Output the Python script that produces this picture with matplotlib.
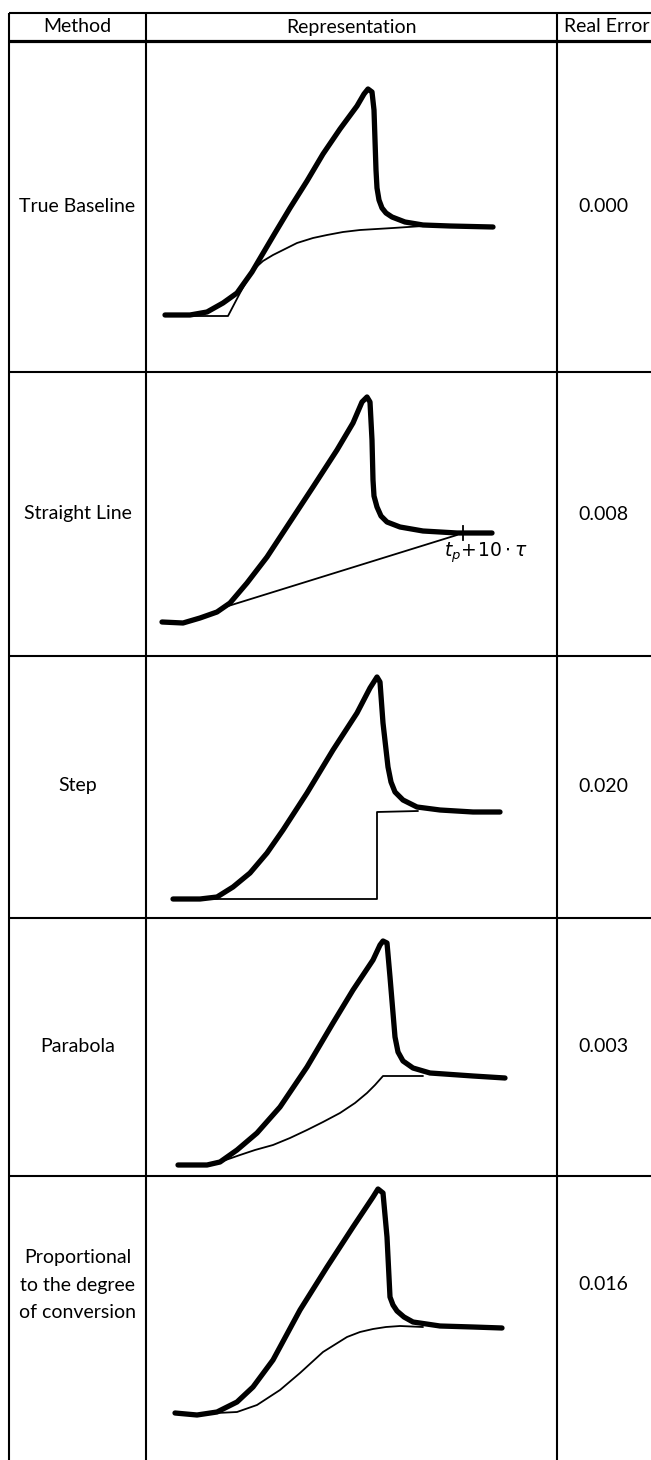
import matplotlib
matplotlib.use("Agg")
import matplotlib.pyplot as plt

plt.rcParams['font.family'] = ['Lato', 'DejaVu Sans']

# ---------------- data ----------------
headers = ["Method", "Representation", "Real Error"]
methods = ["True Baseline", "Straight Line", "Step", "Parabola",
           "Proportional\nto the degree\nof conversion"]
real_errors = ["0.000", "0.008", "0.020", "0.003", "0.016"]

# Panel 1: true baseline  (t = time, s = signal)
tb_sig_t = [19, 44, 61, 77, 91, 106, 116, 129, 144, 161, 177, 194, 211, 218, 222, 226, 228, 229, 230, 231, 233, 236, 240, 246, 259, 277, 304, 347]
tb_sig_s = [57, 57, 60, 69, 79, 100, 117, 139, 164, 191, 218, 243, 266, 278, 283, 280, 262, 232, 202, 184, 172, 164, 159, 155, 150, 147, 146, 145]
tb_base_t = [44, 82, 94, 107, 117, 127, 139, 151, 167, 181, 197, 214, 247, 277]
tb_base_s = [56, 56, 79, 102, 111, 117, 123, 129, 134, 137, 140, 142, 144, 146]

# Panel 2: straight line
sl_sig_t = [16, 37, 54, 71, 84, 101, 121, 144, 167, 191, 207, 216, 221, 224, 226, 227, 228, 231, 235, 241, 254, 277, 311, 346]
sl_sig_s = [34, 33, 38, 44, 53, 73, 99, 134, 169, 206, 233, 254, 259, 254, 216, 176, 160, 149, 140, 134, 129, 125, 123, 123]
sl_base_t = [79, 311]
sl_base_s = [49, 121]
sl_mark_t = [317, 317]
sl_mark_s = [116, 130]
sl_label = r'$t_p\!+\!10\cdot\tau$'

# Panel 3: step
st_sig_t = [27, 54, 71, 87, 104, 121, 137, 161, 187, 211, 224, 231, 234, 237, 242, 245, 249, 257, 271, 294, 327, 354]
st_sig_s = [19, 19, 21, 31, 45, 65, 88, 125, 168, 205, 230, 241, 236, 195, 151, 136, 126, 118, 111, 108, 106, 106]
st_base_t = [54, 231, 231, 272]
st_base_s = [19, 19, 106, 107]

# Panel 4: parabola
pa_sig_t = [32, 61, 74, 91, 111, 134, 161, 187, 207, 227, 234, 237, 241, 244, 249, 252, 257, 267, 284, 327, 359]
pa_sig_s = [11, 11, 14, 26, 43, 69, 109, 153, 186, 216, 231, 235, 233, 199, 139, 124, 115, 108, 103, 100, 98]
pa_base_t = [74, 94, 109, 127, 144, 161, 177, 194, 209, 221, 229, 237, 277]
pa_base_s = [14, 21, 26, 31, 38, 46, 54, 63, 73, 83, 91, 100, 100]

# Panel 5: proportional to degree of conversion
pc_sig_t = [29, 51, 71, 91, 107, 127, 154, 181, 207, 227, 232, 237, 241, 244, 247, 251, 258, 267, 294, 327, 356]
pc_sig_s = [47, 45, 48, 58, 73, 100, 150, 193, 233, 263, 271, 267, 223, 163, 155, 149, 143, 138, 134, 133, 132]
pc_base_t = [71, 91, 111, 134, 154, 177, 201, 214, 227, 240, 254, 277]
pc_base_s = [47, 48, 55, 70, 87, 108, 123, 128, 131, 133, 134, 133]

panels = [
    (tb_sig_t, tb_sig_s, tb_base_t, tb_base_s),
    (sl_sig_t, sl_sig_s, sl_base_t, sl_base_s),
    (st_sig_t, st_sig_s, st_base_t, st_base_s),
    (pa_sig_t, pa_sig_s, pa_base_t, pa_base_s),
    (pc_sig_t, pc_sig_s, pc_base_t, pc_base_s),
]

# ---------------- layout ----------------
W, H = 651, 1460
col_edges = [9, 146, 557, 760]
row_edges = [13, 41, 372, 656, 918, 1176, 1460]
text_y = [207, 514, 786, 1047, 1285]
err_x = 603
fs = 14
lw_grid = 1.5

fig = plt.figure(figsize=(W / 100, H / 100), dpi=100)
tab = fig.add_axes([0, 0, 1, 1])
tab.set_xlim(0, W)
tab.set_ylim(H, 0)
tab.axis('off')

# table lines
for i, y in enumerate(row_edges[:-1]):
    lw = 2.3 if i == 1 else lw_grid
    tab.plot([col_edges[0], W + 5], [y, y], color='black', lw=lw, solid_capstyle='butt')
for x in col_edges[:-1]:
    tab.plot([x, x], [row_edges[0], H + 5], color='black', lw=lw_grid, solid_capstyle='butt')

# header
hy = (row_edges[0] + row_edges[1]) / 2
tab.text((col_edges[0] + col_edges[1]) / 2, hy, headers[0], ha='center', va='center', fontsize=fs)
tab.text((col_edges[1] + col_edges[2]) / 2, hy, headers[1], ha='center', va='center', fontsize=fs)
tab.text(col_edges[2] + 7, hy, headers[2], ha='left', va='center', fontsize=fs)

for i in range(5):
    tab.text((col_edges[0] + col_edges[1]) / 2, text_y[i], methods[i], ha='center', va='center',
             fontsize=fs, linespacing=1.75)
    tab.text(err_x, text_y[i], real_errors[i], ha='center', va='center', fontsize=fs)

# representation panels
for i, (st, ss, bt, bs) in enumerate(panels):
    top, bot = row_edges[i + 1], row_edges[i + 2]
    left, right = col_edges[1], col_edges[2]
    ax = fig.add_axes([left / W, 1 - bot / H, (right - left) / W, (bot - top) / H])
    ax.set_xlim(0, right - left)
    ax.set_ylim(0, bot - top)
    ax.axis('off')
    ax.patch.set_visible(False)
    ax.plot(bt, bs, color='black', lw=1.3, solid_joinstyle='round', solid_capstyle='round')
    ax.plot(st, ss, color='black', lw=3.8, solid_joinstyle='round', solid_capstyle='round')
    if i == 1:
        ax.plot(sl_mark_t, sl_mark_s, color='black', lw=1.3)
        ax.text(298, 103, sl_label, fontsize=13.5, ha='left', va='center')

fig.savefig('out.png', dpi=100)
